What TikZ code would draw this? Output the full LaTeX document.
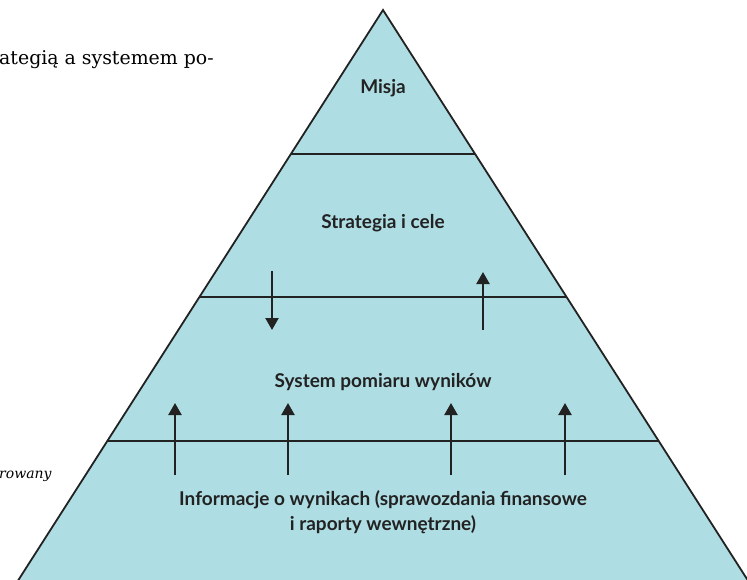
\documentclass[tikz,border=0pt]{standalone}
\usepackage{fontspec}
\setmainfont{DejaVu Serif}
\newfontfamily\labelfont{Lato}
\usetikzlibrary{calc,arrows.meta}
\definecolor{pyrfill}{RGB}{174,221,227}
\definecolor{pyrtext}{RGB}{34,34,34}
\tikzset{
	level/.style={font=\labelfont\bfseries\fontsize{19}{25}\selectfont, text=pyrtext, align=center},
	flow/.style={line width=2.2pt, draw=pyrtext, -{Triangle[width=13pt,length=12pt]}},
	divider/.style={line width=1.8pt, draw=pyrtext}
}
\begin{document}
\begin{tikzpicture}[x=1pt,y=-1pt]
			\useasboundingbox (0,0) rectangle (747,579);
			\clip (0,0) rectangle (747,579);
			\coordinate (top) at (383,10);
			\coordinate (bl) at (12,590);
			\coordinate (br) at (754,590);
			\draw[fill=pyrfill, draw=pyrtext, line width=1.8pt, line join=miter] (top)--(bl)--(br)--cycle;

			% dividers between the levels
			\foreach \h/\name in {154/mis, 297/str, 441/sys} {
				\draw[divider] ($(top)!{(\h-10)/580}!(bl)$) coordinate (\name-l) -- ($(top)!{(\h-10)/580}!(br)$) coordinate (\name-r);
			}

			\node[level] (misja) at (383,88) {Misja};
			\node[level] (strategia) at (383,223) {Strategia i cele};
			\node[level] (pomiar) at (383,382) {System pomiaru wyników};
			\node[level] (informacje) at (383,512) {Informacje o wynikach (sprawozdania finansowe\\i raporty wewnętrzne)};

			% arrows across the levels
			\draw[flow] (272,271) -- (272,330);
			\draw[flow] (483,330) -- (483,272);
			\foreach \x in {175,288,451,565} {
				\draw[flow] (\x,475) -- (\x,403);
			}

			% page text cut off at the left
			\node[anchor=west, inner sep=0pt, font=\fontsize{18.9}{21}\selectfont] (pagetop) at (-1,60) {ategią a systemem po-};
			\node[anchor=west, inner sep=0pt, font=\itshape\fontsize{14}{16}\selectfont] (pageside) at (-1,476) {rowany};
		\end{tikzpicture}
\end{document}
